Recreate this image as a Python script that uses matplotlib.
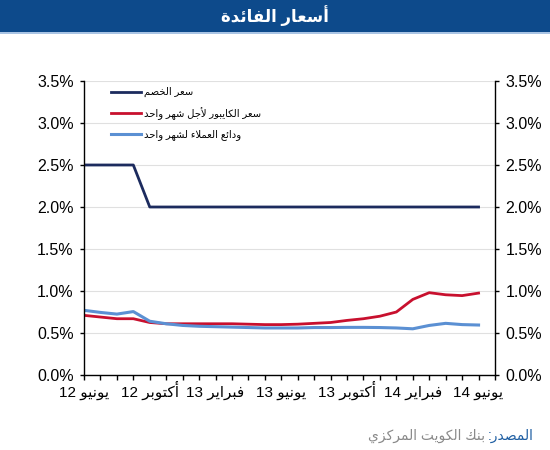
import re
import numpy as np
import matplotlib
matplotlib.use("Agg")
import matplotlib.pyplot as plt
from matplotlib.patches import Rectangle

# ---- data (monthly, June 2012 .. June 2014) ----
months = list(range(25))
discount_rate = [2.5, 2.5, 2.5, 2.5] + [2.0] * 21
kibor_1m = [0.71, 0.69, 0.67, 0.67, 0.625, 0.61, 0.61, 0.61, 0.61, 0.61,
            0.605, 0.60, 0.60, 0.605, 0.615, 0.625, 0.65, 0.67, 0.70, 0.75,
            0.90, 0.98, 0.955, 0.945, 0.975]
deposits_1m = [0.77, 0.745, 0.725, 0.755, 0.64, 0.61, 0.59, 0.58, 0.575, 0.57,
               0.565, 0.56, 0.56, 0.56, 0.565, 0.565, 0.567, 0.567, 0.565, 0.56,
               0.55, 0.59, 0.615, 0.60, 0.595]
tick_months = [0, 4, 8, 12, 16, 20, 24]
tick_names = ["يونيو 12", "أكتوبر 12", "فبراير 13", "يونيو 13",
              "أكتوبر 13", "فبراير 14", "يونيو 14"]
y_ticks = [0.0, 0.5, 1.0, 1.5, 2.0, 2.5, 3.0, 3.5]
series_names = ["سعر الخصم", "سعر الكايبور لأجل شهر واحد", "ودائع العملاء لشهر واحد"]
title_text = "أسعار الفائدة"
source_label = "المصدر:"
source_text = "بنك الكويت المركزي"

# ---- tiny arabic shaper (matplotlib has no text shaping) ----
FOUR = {'ئ': 0xFE89, 'ب': 0xFE8F, 'ت': 0xFE95, 'ث': 0xFE99, 'ج': 0xFE9D,
        'ح': 0xFEA1, 'خ': 0xFEA5, 'س': 0xFEB1, 'ش': 0xFEB5, 'ص': 0xFEB9,
        'ض': 0xFEBD, 'ط': 0xFEC1, 'ظ': 0xFEC5, 'ع': 0xFEC9, 'غ': 0xFECD,
        'ف': 0xFED1, 'ق': 0xFED5, 'ك': 0xFED9, 'ل': 0xFEDD, 'م': 0xFEE1,
        'ن': 0xFEE5, 'ه': 0xFEE9, 'ي': 0xFEF1}
TWO = {'آ': 0xFE81, 'أ': 0xFE83, 'ؤ': 0xFE85, 'إ': 0xFE87, 'ا': 0xFE8D,
       'ة': 0xFE93, 'د': 0xFEA9, 'ذ': 0xFEAB, 'ر': 0xFEAD, 'ز': 0xFEAF,
       'و': 0xFEED, 'ى': 0xFEEF}
LAM_ALEF = {'آ': 0xFEF5, 'أ': 0xFEF7, 'إ': 0xFEF9, 'ا': 0xFEFB}


def shape(s):
    tokens = []
    i = 0
    while i < len(s):
        if s[i] == 'ل' and i + 1 < len(s) and s[i + 1] in LAM_ALEF:
            tokens.append(('LA', s[i + 1]))
            i += 2
        else:
            tokens.append(s[i])
            i += 1

    def joins_prev(t):
        return isinstance(t, tuple) or t in FOUR or t in TWO

    def joins_next(t):
        return (not isinstance(t, tuple)) and t in FOUR

    out = []
    for k, t in enumerate(tokens):
        p = k > 0 and joins_next(tokens[k - 1]) and joins_prev(t)
        n = k + 1 < len(tokens) and joins_next(t) and joins_prev(tokens[k + 1])
        if isinstance(t, tuple):
            out.append(chr(LAM_ALEF[t[1]] + (1 if p else 0)))
        elif t in FOUR:
            out.append(chr(FOUR[t] + (1 if p and not n else 2 if n and not p else 3 if p and n else 0)))
        elif t in TWO:
            out.append(chr(TWO[t] + (1 if p else 0)))
        elif t == 'ء':
            out.append(chr(0xFE80))
        else:
            out.append(t)
    vis = ''.join(out)[::-1]
    return re.sub(r'[0-9A-Za-z.%]+', lambda m: m.group(0)[::-1], vis)


plt.rcParams['font.family'] = ['Liberation Sans', 'DejaVu Sans']

fig = plt.figure(figsize=(5.5, 4.5), dpi=100)

# title bar
fig.patches.append(Rectangle((0, 1 - 32 / 450), 1, 32 / 450, transform=fig.transFigure,
                             facecolor='#0d4a8b', edgecolor='none'))
fig.patches.append(Rectangle((0, 1 - 34 / 450), 1, 2 / 450, transform=fig.transFigure,
                             facecolor='#a9c4e4', edgecolor='none'))
fig.text(0.5, 1 - 16 / 450, shape(title_text), color='white', fontsize=12,
         fontweight='bold', ha='center', va='center')

ax = fig.add_axes([84 / 550, 1 - 375 / 450, (495 - 84) / 550, (375 - 81) / 450])

ax.plot(months, discount_rate, color='#1c2b5e', lw=2.0, label=shape(series_names[0]))
ax.plot(months, kibor_1m, color='#c8102e', lw=2.0, label=shape(series_names[1]))
ax.plot(months, deposits_1m, color='#5b90d3', lw=2.2, label=shape(series_names[2]))

ax.set_xlim(0, 25)
ax.set_ylim(0, 3.5)
ax.set_yticks(y_ticks)
ax.set_yticklabels(['%.1f%%' % v for v in y_ticks])
ax.set_xticks(months + [25])
labels = [''] * 26
for m, name in zip(tick_months, tick_names):
    labels[m] = shape(name)
ax.set_xticklabels(labels)

ax.grid(axis='y', color='#e0e0e0', lw=0.8)
ax.set_axisbelow(True)
ax.spines['top'].set_visible(False)
for sp in ['left', 'right', 'bottom']:
    ax.spines[sp].set_linewidth(1.0)
ax.tick_params(axis='y', direction='out', length=3, width=1, left=True, right=True,
               labelleft=True, labelright=True, labelsize=11.5, pad=4.5)
ax.tick_params(axis='x', direction='out', length=3.6, width=1, labelsize=11, pad=12)
for lbl in ax.get_xticklabels():
    lbl.set_verticalalignment('baseline')

leg = ax.legend(loc='upper left', bbox_to_anchor=(106 / 550, 1 - 82 / 450),
                bbox_transform=fig.transFigure, frameon=False, fontsize=7.2,
                handlelength=3.0, handletextpad=0.3, labelspacing=0.95, borderpad=0)

# source line
fig.canvas.draw()
r = fig.canvas.get_renderer()
t1 = fig.text(534 / 550, 1 - 436 / 450, shape(source_label), color='#1f5fa3',
              fontsize=10, ha='right', va='center')
bb = t1.get_window_extent(renderer=r)
fig.text((bb.x0 - 3) / 550, 1 - 436 / 450, shape(source_text), color='#8a8a8a',
         fontsize=10, ha='right', va='center')

fig.savefig('out.png', dpi=100)
